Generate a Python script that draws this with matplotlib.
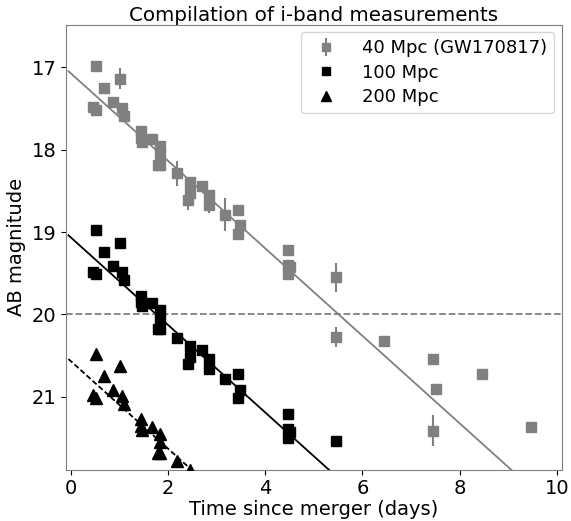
import numpy as np
import matplotlib
matplotlib.use("Agg")
import matplotlib.pyplot as plt

# GW170817 i-band points at 40 Mpc (days, AB mag, error)
t_40 = [0.46, 0.52, 0.51, 0.69, 0.86, 1.01, 1.06, 1.10, 1.44, 1.44, 1.47, 1.68, 1.84, 1.84, 1.79, 1.84,
        2.19, 2.45, 2.45, 2.42, 2.69, 2.84, 2.84, 3.18, 3.44, 3.48, 3.43, 4.46, 4.46, 4.50, 4.46,
        5.45, 5.45, 6.44, 7.45, 7.51, 8.46, 7.45, 9.46]
m_40 = [17.49, 17.52, 16.99, 17.25, 17.42, 17.14, 17.50, 17.59, 17.78, 17.86, 17.91, 17.87, 17.96, 18.06, 18.19, 18.19,
        18.29, 18.39, 18.53, 18.61, 18.44, 18.55, 18.67, 18.79, 18.73, 18.92, 19.02, 19.22, 19.40, 19.43, 19.51,
        19.55, 20.27, 20.32, 20.54, 20.90, 20.72, 21.41, 21.36]
e_40 = [0.05, 0.05, 0.03, 0.03, 0.03, 0.13, 0.05, 0.05, 0.07, 0.05, 0.05, 0.04, 0.05, 0.05, 0.05, 0.05,
        0.15, 0.05, 0.05, 0.12, 0.04, 0.05, 0.10, 0.20, 0.03, 0.05, 0.05, 0.05, 0.05, 0.05, 0.05,
        0.18, 0.12, 0.06, 0.03, 0.03, 0.03, 0.19, 0.03]

# same events seen at 100 Mpc
t_100 = [0.46, 0.52, 0.51, 0.69, 0.86, 1.01, 1.06, 1.10, 1.44, 1.44, 1.47, 1.68, 1.84, 1.84, 1.79, 1.84,
         2.19, 2.45, 2.45, 2.42, 2.69, 2.84, 2.84, 3.18, 3.44, 3.48, 3.43, 4.46, 4.46, 4.50, 4.46, 5.45]
m_100 = [19.48, 19.51, 18.98, 19.24, 19.41, 19.13, 19.49, 19.58, 19.77, 19.85, 19.90, 19.86, 19.95, 20.05, 20.18, 20.18,
         20.28, 20.38, 20.52, 20.60, 20.43, 20.54, 20.66, 20.78, 20.72, 20.91, 21.01, 21.21, 21.39, 21.42, 21.50, 21.54]

# and at 200 Mpc
t_200 = [0.46, 0.52, 0.51, 0.69, 0.86, 1.01, 1.06, 1.10, 1.44, 1.44, 1.47, 1.68, 1.84, 1.84, 1.79, 1.84, 2.19, 2.45]
m_200 = [20.98, 21.01, 20.48, 20.74, 20.91, 20.63, 20.99, 21.08, 21.27, 21.35, 21.40, 21.36, 21.45, 21.55, 21.68, 21.68,
         21.78, 21.88]

# linear fits (end points)
fit_t = [-0.05, 10.0]
fit_40 = [17.05, 22.38]
fit_100 = [19.04, 24.37]
fit_200 = [20.54, 25.87]

fig = plt.figure(figsize=(5.71, 5.21), dpi=100)
ax = fig.add_axes([0.1156, 0.0988, 0.868, 0.8532])

h40 = ax.errorbar(t_40, m_40, yerr=e_40, fmt='s', color='gray', ms=7.5, elinewidth=1.5,
                  capsize=0, label='40 Mpc (GW170817)', zorder=3)
h100, = ax.plot(t_100, m_100, 's', color='black', ms=7.5, label='100 Mpc', zorder=3)
h200, = ax.plot(t_200, m_200, '^', color='black', ms=8.5, label='200 Mpc', zorder=3)

ax.plot(fit_t, fit_40, '-', color='gray', lw=1.3)
ax.plot(fit_t, fit_100, '-', color='black', lw=1.3)
ax.plot(fit_t, fit_200, '--', color='black', lw=1.3, dashes=(3, 1.5))
ax.axhline(20, color='gray', ls='--', lw=1.3)

ax.set_xlim(-0.1, 10.1)
ax.set_ylim(21.88, 16.49)
ax.set_xticks([0, 2, 4, 6, 8, 10])
ax.set_yticks([17, 18, 19, 20, 21])
ax.tick_params(labelsize=14)
for s in ax.spines.values():
    s.set_color('gray')

ax.set_xlabel('Time since merger (days)', fontsize=14, labelpad=1)
ax.set_ylabel('AB magnitude', fontsize=14)
ax.set_title('Compilation of i-band measurements', fontsize=14.3, pad=3)
ax.legend(handles=[h40, h100, h200], loc='upper right', fontsize=13, labelspacing=0.35,
          handletextpad=1.0, borderaxespad=0.4, markerscale=0.8)

fig.savefig('out.png', dpi=100)
